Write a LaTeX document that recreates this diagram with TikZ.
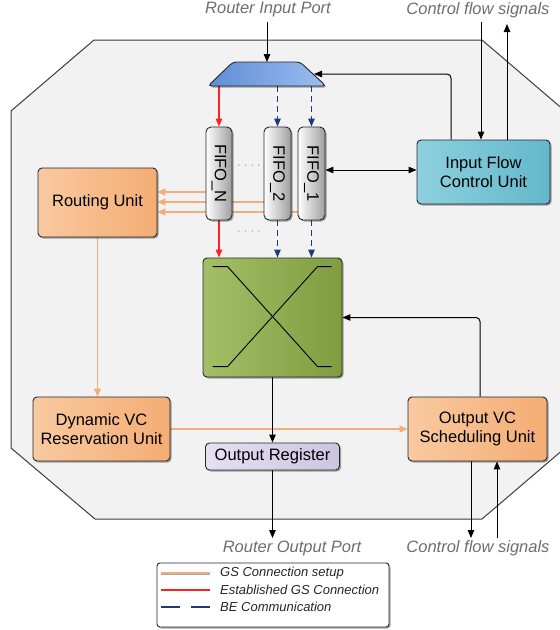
\documentclass[tikz,border=0pt]{standalone}
\usepackage{fontspec}
\usepackage{graphicx}
\setmainfont{Liberation Sans}
\usetikzlibrary{arrows.meta,shapes.geometric,shadows,calc}
\pgfdeclarelayer{back}
\pgfdeclarelayer{mid}
\pgfsetlayers{back,mid,main}
\definecolor{octfill}{HTML}{F2F2F2}
\definecolor{octline}{HTML}{3C3C3C}
\definecolor{orgA}{HTML}{F9C9A0}
\definecolor{orgB}{HTML}{F4AD74}
\definecolor{tealA}{HTML}{8DD0DE}
\definecolor{tealB}{HTML}{62B8CB}
\definecolor{grnA}{HTML}{A3C067}
\definecolor{grnB}{HTML}{7F9C40}
\definecolor{bluA}{HTML}{9CBDF0}
\definecolor{bluB}{HTML}{5E8DD6}
\definecolor{lavA}{HTML}{E6E0F2}
\definecolor{lavB}{HTML}{CDC4E0}
\definecolor{gsline}{HTML}{F3AD7C}
\definecolor{gsred}{HTML}{FF1F1F}
\definecolor{benavy}{HTML}{1F3A78}
\definecolor{labgray}{HTML}{6E6E6E}
\tikzset{
  x=1pt, y=-1pt,
  boxshadow/.style={drop shadow={shadow xshift=1.5pt, shadow yshift=-1.5pt, opacity=0.35, fill=black}},
  unit/.style={draw=black!85, line width=0.9pt, rounded corners=4pt, inner sep=0pt, align=center,
    font=\fontsize{16.5}{19.5}\selectfont, boxshadow},
  orangebox/.style={unit, left color=orgA, right color=orgB},
  tealbox/.style={unit, left color=tealA, right color=tealB},
  lavbox/.style={unit, left color=lavA, right color=lavB},
  greenbox/.style={unit, left color=grnA, right color=grnB},
  fifobox/.style={unit, rounded corners=5pt, left color=white, right color=black!38},
  muxfill/.style={draw=black!85, line width=0.9pt, rounded corners=3.5pt, left color=bluB, right color=bluA, boxshadow},
  lab/.style={font=\itshape\fontsize{16.5}{19}\selectfont, text=labgray, inner sep=0pt},
  legtext/.style={font=\itshape\fontsize{13}{15}\selectfont, text=black!85, anchor=west, inner sep=0pt},
  dotstyle/.style={font=\fontsize{11}{12}\selectfont, text=black!45, inner sep=0pt},
  blk/.style={draw=black, line width=1pt, -{Triangle[length=8pt,width=6.5pt]}},
  blkboth/.style={draw=black, line width=1pt, {Triangle[length=8pt,width=6.5pt]}-{Triangle[length=8pt,width=6.5pt]}},
  redarr/.style={draw=gsred, line width=1.3pt, -{Triangle[length=8pt,width=6.5pt]}},
  bluearr/.style={draw=benavy, line width=1.2pt, dash pattern=on 6pt off 4pt, -{Triangle[length=8pt,width=6.5pt]}},
  gsarr/.style={draw=gsline, line width=1.8pt, -{Triangle[length=8pt,width=7pt]}},
}
\begin{document}
\begin{tikzpicture}
\useasboundingbox (0,0) rectangle (560,630);
% router boundary
\begin{pgfonlayer}{back}
\filldraw[fill=octfill, draw=octline, line width=1pt]
  (94,40) -- (482,40) -- (565,111) -- (565,448) -- (482,519) -- (95,519) -- (11,448) -- (11,111) -- cycle;
\end{pgfonlayer}

% input multiplexer (trapezium)
\path[muxfill] (233,62) -- (300,62) -- (326,86) -- (208,86) -- cycle;
\coordinate (mux) at (267,74);
\coordinate (muxN) at (267,62);
\coordinate (muxS) at (267,86);
\coordinate (muxE) at (314,74);

% units
\node[fifobox, minimum width=26pt, minimum height=93pt] (fifoN) at (219,173.5) {\rotatebox{-90}{FIFO\_N}};
\node[fifobox, minimum width=27pt, minimum height=93pt] (fifo2) at (277.5,173.5) {\rotatebox{-90}{FIFO\_2}};
\node[fifobox, minimum width=27pt, minimum height=93pt] (fifo1) at (311.5,173.5) {\rotatebox{-90}{FIFO\_1}};
\node[greenbox, minimum width=139pt, minimum height=119pt] (xbar) at (272.5,317.5) {};
\node[orangebox, minimum width=119pt, minimum height=69pt] (routing) at (97.5,202.5) {Routing Unit};
\node[tealbox, minimum width=133pt, minimum height=64pt] (ifc) at (483.5,172) {Input Flow\\Control Unit};
\node[orangebox, minimum width=137pt, minimum height=64pt] (dvc) at (101.5,429) {Dynamic VC\\Reservation Unit};
\node[orangebox, minimum width=139pt, minimum height=64pt] (ovc) at (477.5,429) {Output VC\\Scheduling Unit};
\node[lavbox, minimum width=134pt, minimum height=27pt] (oreg) at (272.5,456.5) {Output Register};

% crossbar symbol
\draw[line width=0.9pt, black]
  ($(xbar.north west)+(10,9)$) -- ($(xbar.north west)+(25,9)$) -- ($(xbar.north west)+(115,109)$) -- ($(xbar.north west)+(129,109)$);
\draw[line width=0.9pt, black]
  ($(xbar.north west)+(129,9)$) -- ($(xbar.north west)+(115,9)$) -- ($(xbar.north west)+(25,109)$) -- ($(xbar.north west)+(10,109)$);

% dots between FIFOs
\node[dotstyle] (dotsU) at (249,167) {· · · ·};
\node[dotstyle] (dotsL) at (249,233) {· · · ·};

% labels
\node[lab] (inlab) at (268,10) {Router Input Port};
\node[lab] (cftop) at (478,10) {Control flow signals};
\node[lab] (outlab) at (292,548) {Router Output Port};
\node[lab] (cfbot) at (478,548) {Control flow signals};

\coordinate (inport) at (267,22);
\coordinate (cfin) at (481,22);
\coordinate (cfout) at (507,24);
\coordinate (outport) at (272.5,538);
\coordinate (cfo2) at (471,538);
\coordinate (cfi2) at (497,538);

% connectors
\begin{pgfonlayer}{mid}
\draw[blk] (inport) -- (muxN);
\draw[redarr] (muxS -| fifoN.north) -- (fifoN.north);
\draw[bluearr] (muxS -| fifo2.north) -- (fifo2.north);
\draw[bluearr] (muxS -| fifo1.north) -- (fifo1.north);
\draw[redarr] (fifoN.south) -- (fifoN.south |- xbar.north);
\draw[bluearr] (fifo2.south) -- (fifo2.south |- xbar.north);
\draw[bluearr] (fifo1.south) -- (fifo1.south |- xbar.north);
\draw[gsarr] (fifoN.west |- 0,192) -- (routing.east |- 0,192);
\draw[gsarr] (fifo2.west |- 0,202) -- (routing.east |- 0,202);
\draw[gsarr] (fifo1.west |- 0,212) -- (routing.east |- 0,212);
\draw[gsarr] (routing.south) -- (routing.south |- dvc.north);
\draw[gsarr] (dvc.east) -- (ovc.west);
\draw[blk] (xbar.south) -- (oreg.north);
\draw[blk] (oreg.south) -- (outport);
\draw[blkboth] (fifo1.east |- 0,170) -- (ifc.west |- 0,170);
\draw[blk, rounded corners=4pt] (451,0 |- ifc.north) |- (muxE);
\draw[blk] (cfin) -- (cfin |- ifc.north);
\draw[blk] (cfout |- ifc.north) -- (cfout);
\draw[blk, rounded corners=4pt] (480,0 |- ovc.north) |- (xbar.east);
\draw[blk] (cfo2 |- ovc.south) -- (cfo2);
\draw[blk] (cfi2) -- (cfi2 |- ovc.south);
\end{pgfonlayer}

% legend
\node[draw=black!85, line width=0.9pt, fill=white, rounded corners=3pt, minimum width=232pt,
  minimum height=64pt, inner sep=0pt, boxshadow] (legend) at (273,595) {};
\coordinate (la1) at (161,573); \coordinate (lb1) at (210,573);
\coordinate (la2) at (161,590); \coordinate (lb2) at (210,590);
\coordinate (la3) at (161,607); \coordinate (lb3) at (210,607);
\draw[draw=black!35, line width=1.8pt] ($(la1)+(0,1.2)$) -- ($(lb1)+(0,1.2)$);
\draw[draw=gsline, line width=1.8pt] (la1) -- (lb1);
\draw[draw=gsred, line width=1.8pt] (la2) -- (lb2);
\draw[draw=benavy, line width=1.8pt, dash pattern=on 19pt off 11pt] (la3) -- (lb3);
\node[legtext] (lt1) at (220,573) {GS Connection setup};
\node[legtext] (lt2) at (220,590) {Established GS Connection};
\node[legtext] (lt3) at (220,607) {BE Communication};
\end{tikzpicture}
\end{document}
